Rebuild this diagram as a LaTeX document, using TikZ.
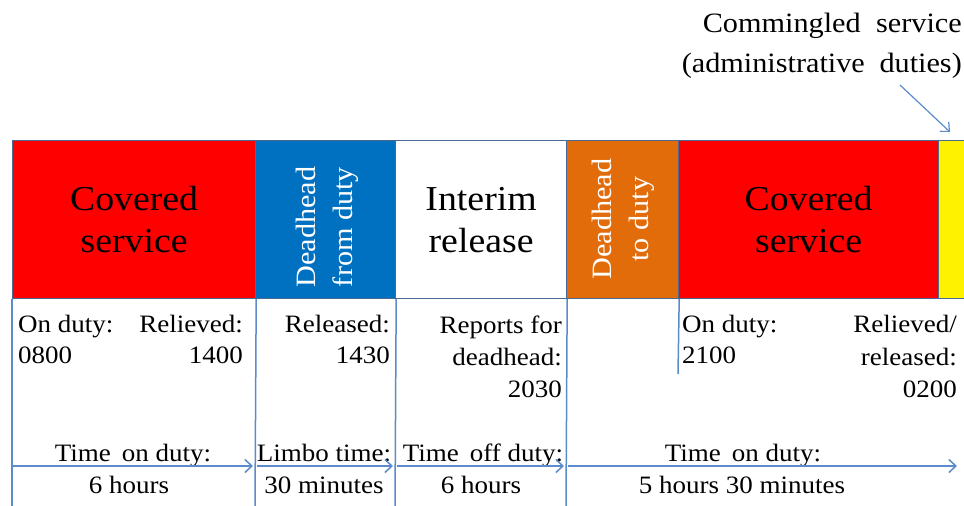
\documentclass[tikz,border=0pt]{standalone}
\usepackage{fontspec}
\setmainfont[FakeStretch=1.08]{Liberation Serif}
\usetikzlibrary{arrows.meta}
\definecolor{boxblue}{HTML}{0070C0}
\definecolor{boxorange}{HTML}{E36C0A}
\definecolor{edgecol}{HTML}{4A6A94}
\definecolor{rulecol}{HTML}{5B8BCB}
\begin{document}
\begin{tikzpicture}[x=1pt,y=-1pt,
  box/.style={draw=edgecol, line width=1.2pt, minimum height=158pt, inner sep=0pt, anchor=north west},
  bigtxt/.style={font=\fontsize{35}{42}\selectfont, align=center},
  rottxt/.style={font=\fontsize{28}{37}\selectfont, align=center, text=white, rotate=90},
  smalltxt/.style={font=\fontsize{25}{32}\selectfont, inner sep=0pt},
  rulel/.style={draw=rulecol, line width=1.5pt},
  arr/.style={rulel, -{Straight Barb[length=7pt,width=13pt]}}]
\useasboundingbox (0,0) rectangle (964,506);
\clip (0,0) rectangle (964,506);

% top boxes
\node[box, fill=red, minimum width=243pt] (cs1) at (12,140) {};
\node[box, fill=boxblue, minimum width=140pt] (dh1) at (255,140) {};
\node[box, fill=white, minimum width=171pt] (ir) at (395,140) {};
\node[box, fill=boxorange, minimum width=112pt] (dh2) at (566,140) {};
\node[box, fill=red, minimum width=260pt] (cs2) at (678,140) {};
\node[box, fill=yellow, minimum width=40pt] (yb) at (938,140) {};

\node[bigtxt] (cs1t) at (cs1.center) {Covered\\service};
\node[rottxt] (dh1t) at (327,227) {Deadhead\\from duty};
\node[bigtxt] (irt) at (ir.center) {Interim\\release};
\node[rottxt] (dh2t) at (623,219) {Deadhead\\to duty};
\node[bigtxt] (cs2t) at (cs2.center) {Covered\\service};

% commingled label
\node[font=\fontsize{28}{40}\selectfont, inner sep=0pt, anchor=base east] (cm1) at (962,32) {\makebox[259pt][s]{Commingled service}};
\node[font=\fontsize{28}{40}\selectfont, inner sep=0pt, anchor=base east] (cm2) at (962,72) {\makebox[280pt][s]{(administrative duties)}};
\coordinate (cmS) at (900,85);
\coordinate (cmE) at (950,132);
\draw[arr, line width=1.2pt] (cmS) -- (cmE);

% table lines
\coordinate (b0) at (12,506);
\coordinate (b1) at (255,506);
\coordinate (b2) at (395,506);
\coordinate (b3) at (566,506);
\coordinate (b4) at (678,374);
\draw[rulel] (cs1.south west) -- (b0);
\draw[rulel] (cs1.south east) -- (b1);
\draw[rulel] (dh1.south east) -- (b2);
\draw[rulel] (ir.south east) -- (b3);
\draw[rulel] (dh2.south east) -- (b4);

% times
\node[smalltxt, anchor=base west] (od1) at (18,332) {On duty:};
\node[smalltxt, anchor=base west] (od1v) at (18,363) {0800};
\node[smalltxt, anchor=base east] (rl1) at (243,332) {Relieved:};
\node[smalltxt, anchor=base east] (rl1v) at (243,363) {1400};
\node[smalltxt, anchor=base east] (rs1) at (390,332) {Released:};
\node[smalltxt, anchor=base east] (rs1v) at (390,363) {1430};
\node[smalltxt, anchor=base east] (rp1) at (562,333) {Reports for};
\node[smalltxt, anchor=base east] (rp2) at (562,365) {deadhead:};
\node[smalltxt, anchor=base east] (rp3) at (562,397) {2030};
\node[smalltxt, anchor=base west] (od2) at (682,332) {On duty:};
\node[smalltxt, anchor=base west] (od2v) at (682,363) {2100};
\node[smalltxt, anchor=base east] (rr1) at (957,332) {Relieved/};
\node[smalltxt, anchor=base east] (rr2) at (957,365) {released:};
\node[smalltxt, anchor=base east] (rr3) at (957,397) {0200};

% durations
\node[smalltxt, anchor=base] (d1) at (133,461) {Time\, on duty:};
\node[smalltxt, anchor=base] (d1v) at (129,493) {6 hours};
\node[smalltxt, anchor=base] (d2) at (324,461) {Limbo time:};
\node[smalltxt, anchor=base] (d2v) at (324,493) {30 minutes};
\node[smalltxt, anchor=base] (d3) at (483,461) {Time\, off duty:};
\node[smalltxt, anchor=base] (d3v) at (481,493) {6 hours};
\node[smalltxt, anchor=base] (d4) at (743,461) {Time\, on duty:};
\node[smalltxt, anchor=base] (d4v) at (742,493) {5 hours 30 minutes};

\coordinate (a0) at (12,466);
\coordinate (a1) at (253,466);
\coordinate (a1s) at (257,466);
\coordinate (a2) at (393,466);
\coordinate (a2s) at (397,466);
\coordinate (a3) at (564,466);
\coordinate (a3s) at (568,466);
\coordinate (a4) at (957,466);
\draw[arr] (a0) -- (a1);
\draw[arr] (a1s) -- (a2);
\draw[arr] (a2s) -- (a3);
\draw[arr] (a3s) -- (a4);
\end{tikzpicture}
\end{document}
